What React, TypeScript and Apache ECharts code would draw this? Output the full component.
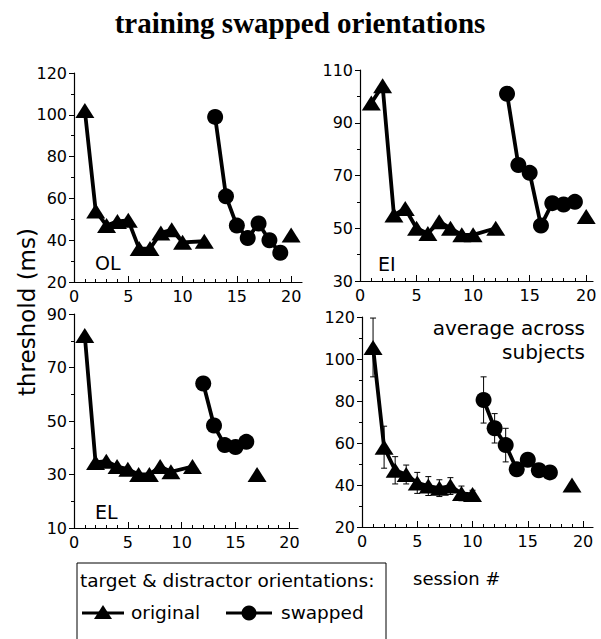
import React, { useEffect, useRef } from "react";
import * as echarts from "echarts";

// ---- data (session #, threshold ms) ----
const olOrigSessions = [1, 2, 3, 4, 5, 6, 7, 8, 9, 10, 12];
const olOrigValues = [102, 54, 47, 49, 49.5, 36, 36, 43.5, 45, 39, 39.5];
const olOrigLoneSessions = [20];
const olOrigLoneValues = [42.5];
const olSwapSessions = [13, 14, 15, 16, 17, 18, 19];
const olSwapValues = [99, 61, 47, 41, 48, 40, 34];

const eiOrigSessions = [1, 2, 3, 4, 5, 6, 7, 8, 9, 10, 12];
const eiOrigValues = [97.5, 104, 55, 57.5, 50, 48, 52.5, 50, 47.5, 47.5, 50];
const eiOrigLoneSessions = [20];
const eiOrigLoneValues = [54.5];
const eiSwapSessions = [13, 14, 15, 16, 17, 18, 19];
const eiSwapValues = [101, 74, 71, 51, 59.5, 59, 60];

const elOrigSessions = [1, 2, 3, 4, 5, 6, 7, 8, 9, 11];
const elOrigValues = [82, 34.5, 35, 33, 32, 30, 30, 33, 31, 33];
const elOrigLoneSessions = [17];
const elOrigLoneValues = [30];
const elSwapSessions = [12, 13, 14, 15, 16];
const elSwapValues = [64, 48.3, 41, 40.3, 42.2];

const avgOrigSessions = [1, 2, 3, 4, 5, 6, 7, 8, 9, 10];
const avgOrigValues = [105.5, 58, 47, 45, 41, 39.5, 38.5, 39.5, 36, 35.5];
const avgOrigErr = [14, 10, 6.5, 4.5, 5, 4.5, 4, 4, 3.5, 2];
const avgOrigLoneSessions = [19];
const avgOrigLoneValues = [40];
const avgSwapSessions = [11, 12, 13, 14, 15, 16, 17];
const avgSwapValues = [80.5, 67, 59, 47.5, 52, 47, 46];
const avgSwapErr = [11, 7, 8, 2, 2, 2, 2];

// ---- axis ticks ----
const xMajorTicks = [0, 5, 10, 15, 20];
const xMinorTicks = [1, 2, 3, 4, 6, 7, 8, 9, 11, 12, 13, 14, 16, 17, 18, 19];
const yRanges = [
  [20, 120],
  [30, 110],
  [10, 90],
  [20, 120],
];

const FONT = "DejaVu Sans";
const pair = (xs: number[], ys: number[]) => xs.map((x, i) => [x, ys[i]]);

export default function App() {
  const ref = useRef<HTMLDivElement>(null);
  useEffect(() => {
    if (!ref.current) return;
    const chart = echarts.init(ref.current, null, { renderer: "svg" });

    const grids = [
      { left: 74, top: 73, width: 228, height: 209, xMax: 21 },
      { left: 360, top: 70, width: 233, height: 211, xMax: 20.6 },
      { left: 74, top: 314, width: 224, height: 214, xMax: 20.8 },
      { left: 362, top: 317, width: 231, height: 210, xMax: 20.9 },
    ];

    const xAxis: any[] = [];
    const yAxis: any[] = [];
    grids.forEach((g, i) => {
      xAxis.push({
        type: "value",
        gridIndex: i,
        position: "bottom",
        min: 0,
        max: g.xMax,
        axisLine: { show: true, onZero: false, lineStyle: { color: "#000", width: 1.2 } },
        axisTick: { show: true, inside: true, length: 6, customValues: xMajorTicks, lineStyle: { color: "#000" } },
        axisLabel: { customValues: xMajorTicks, color: "#000", fontSize: 16, fontFamily: FONT, margin: 6 },
        splitLine: { show: false },
      });
      xAxis.push({
        type: "value",
        gridIndex: i,
        position: "bottom",
        min: 0,
        max: g.xMax,
        axisLine: { show: false, onZero: false },
        axisTick: { show: true, inside: true, length: 3, customValues: xMinorTicks, lineStyle: { color: "#000" } },
        axisLabel: { show: false },
        splitLine: { show: false },
      });
      yAxis.push({
        type: "value",
        gridIndex: i,
        min: yRanges[i][0],
        max: yRanges[i][1],
        interval: 20,
        axisLine: { show: true, onZero: false, lineStyle: { color: "#000", width: 1.2 } },
        axisTick: { show: true, length: 5, lineStyle: { color: "#000" } },
        minorTick: { show: true, splitNumber: 2, length: 3, lineStyle: { color: "#000" } },
        axisLabel: { color: "#000", fontSize: 16, fontFamily: FONT, margin: 7 },
        splitLine: { show: false },
      });
    });

    const tri = { symbol: "triangle", symbolSize: [19, 15] };
    const circ = { symbol: "circle", symbolSize: 16 };
    const lineStyle = { color: "#000", width: 3.8 };
    const itemStyle = { color: "#000", opacity: 1 };

    const panelSeries = (
      i: number,
      oS: number[], oV: number[], lS: number[], lV: number[], sS: number[], sV: number[]
    ) => [
      { type: "line", name: "original", xAxisIndex: 2 * i, yAxisIndex: i, data: pair(oS, oV), ...tri, lineStyle, itemStyle, z: 3 },
      { type: "scatter", name: "original", xAxisIndex: 2 * i, yAxisIndex: i, data: pair(lS, lV), ...tri, itemStyle, z: 3 },
      { type: "line", name: "swapped", xAxisIndex: 2 * i, yAxisIndex: i, data: pair(sS, sV), ...circ, lineStyle, itemStyle, z: 3 },
    ];

    const errData = [
      ...avgOrigSessions.map((x, k) => [x, avgOrigValues[k] - avgOrigErr[k], avgOrigValues[k] + avgOrigErr[k]]),
      ...avgSwapSessions.map((x, k) => [x, avgSwapValues[k] - avgSwapErr[k], avgSwapValues[k] + avgSwapErr[k]]),
    ];

    const errSeries = {
      type: "custom",
      xAxisIndex: 6,
      yAxisIndex: 3,
      data: errData,
      z: 2,
      renderItem: (_p: any, api: any) => {
        const x = api.value(0);
        const lo = api.coord([x, api.value(1)]);
        const hi = api.coord([x, api.value(2)]);
        const st = { stroke: "#000", lineWidth: 1 };
        const c = 3;
        return {
          type: "group",
          children: [
            { type: "line", shape: { x1: lo[0], y1: lo[1], x2: hi[0], y2: hi[1] }, style: st },
            { type: "line", shape: { x1: hi[0] - c, y1: hi[1], x2: hi[0] + c, y2: hi[1] }, style: st },
            { type: "line", shape: { x1: lo[0] - c, y1: lo[1], x2: lo[0] + c, y2: lo[1] }, style: st },
          ],
        };
      },
    };

    const series = [
      ...panelSeries(0, olOrigSessions, olOrigValues, olOrigLoneSessions, olOrigLoneValues, olSwapSessions, olSwapValues),
      ...panelSeries(1, eiOrigSessions, eiOrigValues, eiOrigLoneSessions, eiOrigLoneValues, eiSwapSessions, eiSwapValues),
      ...panelSeries(2, elOrigSessions, elOrigValues, elOrigLoneSessions, elOrigLoneValues, elSwapSessions, elSwapValues),
      ...panelSeries(3, avgOrigSessions, avgOrigValues, avgOrigLoneSessions, avgOrigLoneValues, avgSwapSessions, avgSwapValues),
      errSeries,
    ];

    const txt = (text: string, x: number, y: number, size: number, align = "left", extra: any = {}) => ({
      type: "text",
      x,
      y,
      style: { text, fill: "#000", font: `${size}px "${FONT}"`, textAlign: align, textVerticalAlign: "middle" },
      ...extra,
    });

    const graphic = [
      {
        type: "text",
        x: 300,
        y: 23,
        style: {
          text: "training swapped orientations",
          fill: "#000",
          font: 'bold 29px "Liberation Serif"',
          textAlign: "center",
          textVerticalAlign: "middle",
        },
      },
      txt("threshold (ms)", 27, 312, 23, "center", { rotation: Math.PI / 2 }),
      txt("OL", 95, 262.5, 19),
      txt("EI", 378, 263.5, 19),
      txt("EL", 95, 511.5, 19),
      txt("average across", 585, 328, 20, "right"),
      txt("subjects", 585, 352, 20, "right"),
      txt("session #", 413, 578, 18),
      {
        type: "rect",
        shape: { x: 77, y: 563, width: 309, height: 90 },
        style: { fill: "none", stroke: "#000", lineWidth: 1 },
      },
      txt("target & distractor orientations:", 80, 580, 18.5),
      { type: "line", shape: { x1: 82, y1: 613, x2: 124, y2: 613 }, style: { stroke: "#000", lineWidth: 3 } },
      { type: "polygon", shape: { points: [[103, 605], [112, 619], [94, 619]] }, style: { fill: "#000" } },
      txt("original", 131, 612, 18.5),
      { type: "line", shape: { x1: 226, y1: 613, x2: 272, y2: 613 }, style: { stroke: "#000", lineWidth: 3 } },
      { type: "circle", shape: { cx: 249, cy: 613, r: 7.5 }, style: { fill: "#000" } },
      txt("swapped", 281, 612, 18.5),
    ];

    chart.setOption({
      animation: false,
      backgroundColor: "#fff",
      grid: grids.map((g) => ({ left: g.left, top: g.top, width: g.width, height: g.height })),
      xAxis,
      yAxis,
      series,
      graphic,
    });
    return () => chart.dispose();
  }, []);

  return (
    <div
      ref={ref}
      style={{ position: "absolute", left: 0, top: 0, width: 601, height: 639, background: "#fff" }}
    />
  );
}
